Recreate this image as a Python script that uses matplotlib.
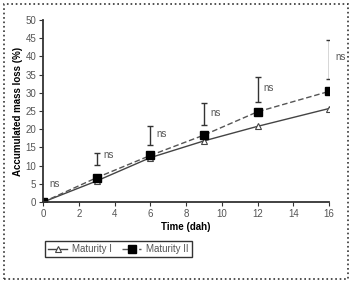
import matplotlib.pyplot as plt
from matplotlib.patches import Rectangle

plt.rcParams['font.family'] = ['Liberation Sans', 'DejaVu Sans']

# data
days = [0, 3, 6, 9, 12, 16]
maturity1 = [0, 5.8, 12.2, 16.8, 20.8, 25.7]
maturity2 = [0, 6.7, 12.8, 18.4, 24.8, 30.4]

# separate range bars drawn above the points
bar_days = [3, 6, 9, 12, 16]
bar_low = [10.2, 15.7, 21.2, 27.5, 33.8]
bar_high = [13.5, 20.9, 27.3, 34.4, 44.6]

# "ns" labels (x, y)
ns_x = [0.35, 3.35, 6.35, 9.35, 12.35, 16.35]
ns_y = [5.0, 13.0, 18.8, 24.5, 31.3, 39.8]

fig = plt.figure(figsize=(3.53, 2.83), dpi=100)
ax = fig.add_axes([0.122, 0.286, 0.810, 0.643])

ax.plot(days, maturity1, color='#444444', lw=1.0, ls='-', marker='^',
        ms=4, mfc='white', mec='#444444', mew=0.8, label='Maturity I')
ax.plot(days, maturity2, color='#555555', lw=1.0, ls=(0, (4, 2)), marker='s',
        ms=5.5, mfc='black', mec='black', label='Maturity II')

mid = [(a + b) / 2 for a, b in zip(bar_low, bar_high)]
err = [(b - a) / 2 for a, b in zip(bar_low, bar_high)]
ax.errorbar(bar_days, mid, yerr=err, fmt='none', ecolor='#333333',
            elinewidth=1.0, capsize=2.5, capthick=1.0)

for x, y in zip(ns_x, ns_y):
    ax.text(x, y, 'ns', fontsize=7, color='#555555', va='center', ha='left')

ax.set_xlim(0, 16)
ax.set_ylim(0, 50)
ax.set_xticks(range(0, 17, 2))
ax.set_yticks(range(0, 51, 5))
ax.spines['top'].set_visible(False)
ax.spines['right'].set_visible(False)
for s in ['left', 'bottom']:
    ax.spines[s].set_linewidth(1.3)
    ax.spines[s].set_color('#333333')
ax.tick_params(labelsize=7, labelcolor='#555555', length=3, width=0.8,
               color='#333333', pad=2)
ax.set_xlabel('Time (dah)', fontsize=7, fontweight='bold', labelpad=2)
ax.set_ylabel('Accumulated mass loss (%)', fontsize=7, fontweight='bold', labelpad=2)

leg = ax.legend(loc='upper left', bbox_to_anchor=(-0.01, -0.185), ncol=2,
                fontsize=7, frameon=True, fancybox=False, edgecolor='black',
                handlelength=1.9, handletextpad=0.5, columnspacing=1.1,
                borderpad=0.35)
leg.get_frame().set_linewidth(1.0)
for t in leg.get_texts():
    t.set_color('#555555')

fig.patches.append(Rectangle((0.01, 0.015), 0.976, 0.972, transform=fig.transFigure,
                             fill=False, ec='#333333', lw=1.2, ls=':'))

fig.savefig('out.png', dpi=100)
